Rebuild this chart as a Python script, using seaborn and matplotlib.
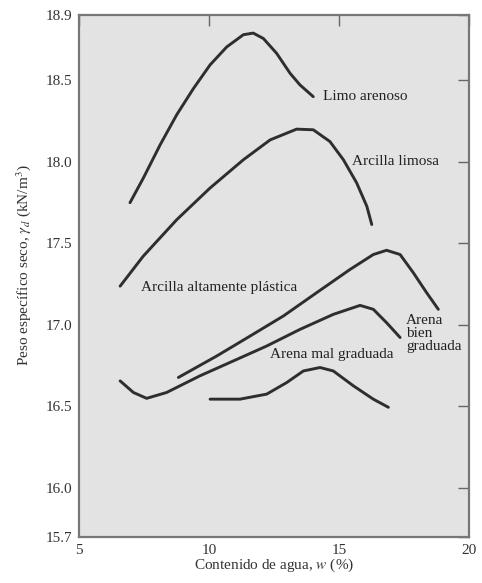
import matplotlib
matplotlib.use("Agg")
import matplotlib.pyplot as plt
import seaborn as sns
import pandas as pd

# ---- data ----
limo_w = [6.96, 7.47, 8.12, 8.76, 9.40, 10.04, 10.68, 11.32, 11.70, 12.09, 12.60, 13.12, 13.50, 14.01]
limo_g = [17.75, 17.90, 18.105, 18.29, 18.45, 18.595, 18.705, 18.78, 18.79, 18.757, 18.666, 18.543, 18.472, 18.40]

arcilla_lim_w = [6.58, 7.47, 8.76, 10.04, 11.32, 12.35, 13.37, 14.01, 14.65, 15.17, 15.68, 16.07, 16.26]
arcilla_lim_g = [17.238, 17.422, 17.646, 17.84, 18.013, 18.135, 18.201, 18.197, 18.125, 18.013, 17.871, 17.728, 17.616]

arcilla_pl_w = [8.82, 10.30, 11.58, 12.86, 14.14, 15.42, 16.32, 16.83, 17.35, 17.86, 18.37, 18.82]
arcilla_pl_g = [16.678, 16.81, 16.932, 17.055, 17.198, 17.34, 17.432, 17.458, 17.432, 17.32, 17.198, 17.096]

arena_bien_w = [6.58, 7.09, 7.60, 8.37, 9.65, 10.93, 12.22, 13.50, 14.78, 15.81, 16.32, 16.83, 17.35]
arena_bien_g = [16.657, 16.586, 16.55, 16.586, 16.688, 16.779, 16.871, 16.973, 17.065, 17.12, 17.096, 17.014, 16.923]

arena_mal_w = [10.04, 11.19, 12.22, 12.99, 13.63, 14.27, 14.78, 15.55, 16.32, 16.90]
arena_mal_g = [16.545, 16.545, 16.576, 16.647, 16.718, 16.739, 16.718, 16.627, 16.545, 16.495]

x_ticks = [5, 10, 15, 20]
y_ticks = [15.7, 16.0, 16.5, 17.0, 17.5, 18.0, 18.5, 18.9]
y_ticklabels = ["15.7", "16.0", "16.5", "17.0", "17.5", "18.0", "18.5", "18.9"]

labels = ["Limo arenoso", "Arcilla limosa", "Arcilla altamente plástica",
          "Arena\nbien\ngraduada", "Arena mal graduada"]
label_w = [14.38, 15.5, 7.38, 17.58, 12.35]
label_g = [18.40, 18.00, 17.23, 16.95, 16.82]

series = [(limo_w, limo_g), (arcilla_lim_w, arcilla_lim_g), (arcilla_pl_w, arcilla_pl_g),
          (arena_bien_w, arena_bien_g), (arena_mal_w, arena_mal_g)]

# ---- style ----
sns.set_style("white")
plt.rcParams["font.family"] = ["Liberation Serif", "DejaVu Serif"]
plt.rcParams["mathtext.fontset"] = "stix"

fig = plt.figure(figsize=(4.82, 5.83), dpi=100)
ax = fig.add_axes([0.164, 0.079, 0.809, 0.895])
ax.set_facecolor("#e3e3e3")

line_color = "#2e2e2e"
for w, g in series:
    df = pd.DataFrame({"w": w, "g": g})
    sns.lineplot(data=df, x="w", y="g", sort=False, ax=ax, color=line_color,
                 linewidth=2.1, solid_capstyle="round", solid_joinstyle="round")

for txt, xw, yg in zip(labels, label_w, label_g):
    ax.text(xw, yg, txt, fontsize=11, ha="left", va="center", color="#222222",
            linespacing=1.0)

ax.set_xlim(5, 20)
ax.set_ylim(15.7, 18.9)
ax.set_xticks(x_ticks)
ax.set_yticks(y_ticks)
ax.set_yticklabels(y_ticklabels)
ax.tick_params(axis="both", direction="in", length=8, width=1.0, color="#666666",
               labelsize=11, labelcolor="#333333", top=True, right=True)
ax.tick_params(axis="x", pad=5)
ax.tick_params(axis="y", pad=5)

for s in ax.spines.values():
    s.set_color("#777777")
    s.set_linewidth(1.6)

ax.set_xlabel(r"Contenido de agua, $w$ (%)", fontsize=11, color="#333333", labelpad=0)
ax.set_ylabel(r"Peso específico seco, $\gamma_d$ (kN/m$^3$)", fontsize=11,
              color="#333333", labelpad=6)
ax.yaxis.set_label_coords(-0.118, 0.52)

fig.savefig("out.png", dpi=100)
